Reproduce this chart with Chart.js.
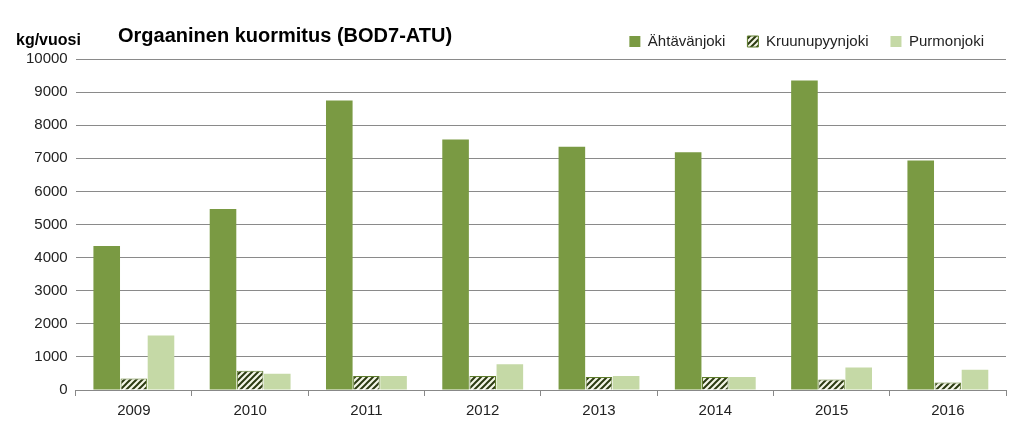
<!DOCTYPE html>
<html><head><meta charset="utf-8">
<script src="https://cdn.jsdelivr.net/npm/chart.js@4"></script>
<style>html,body{margin:0;padding:0;background:#fff}#w{position:relative;width:1024px;height:434px}</style>
</head><body><div id="w"><canvas id="c" width="1024" height="434"></canvas></div>
<script>
const categories = ["2009","2010","2011","2012","2013","2014","2015","2016"];
const ahtavanjoki = [4350,5470,8750,7570,7350,7180,9350,6930];
const kruunupyynjoki = [350,580,420,420,390,390,320,230];
const purmonjoki = [1650,490,420,780,420,390,680,610];
const seriesNames = ["Ähtävänjoki","Kruunupyynjoki","Purmonjoki"];

function hatch(){
  const p=document.createElement('canvas');p.width=6;p.height=6;
  const g=p.getContext('2d');g.fillStyle='#f4f6e8';g.fillRect(0,0,6,6);
  g.strokeStyle='#2b3a12';g.lineWidth=2;
  g.beginPath();g.moveTo(0,6);g.lineTo(6,0);g.moveTo(-3,3);g.lineTo(3,-3);g.moveTo(3,9);g.lineTo(9,3);g.stroke();
  return g.createPattern(p,'repeat');
}
const titlePlugin={id:'t',afterDraw(c){const x=c.ctx;x.save();x.fillStyle='#000';
 x.font='bold 16px "Liberation Sans", Arial';x.textBaseline='middle';x.fillText('kg/vuosi',16,41);
 x.font='bold 20px "Liberation Sans", Arial';x.fillText('Orgaaninen kuormitus (BOD7-ATU)',118,36);x.restore();}};
new Chart(document.getElementById('c'),{
 type:'bar',
 data:{labels:categories,datasets:[
  {label:seriesNames[0],data:ahtavanjoki,backgroundColor:'#7a9a43',borderWidth:0},
  {label:seriesNames[1],data:kruunupyynjoki,backgroundColor:hatch(),borderColor:'#5f7d2c',borderWidth:1},
  {label:seriesNames[2],data:purmonjoki,backgroundColor:'#c5d9a6',borderWidth:0}]},
 options:{responsive:false,animation:false,
  layout:{padding:{left:18,right:18,top:12,bottom:8}},
  datasets:{bar:{categoryPercentage:0.7,barPercentage:0.98}},
  plugins:{legend:{position:'top',align:'end',labels:{boxWidth:11,boxHeight:11,font:{size:15,family:'"Liberation Sans", Arial'},color:'#222',padding:22}},tooltip:{enabled:false}},
  scales:{
   x:{grid:{display:true,drawOnChartArea:false,offset:true,tickLength:6,color:'#888'},border:{color:'#888'},ticks:{font:{size:15,family:'"Liberation Sans", Arial'},color:'#222',padding:6}},
   y:{min:0,max:10000,ticks:{stepSize:1000,callback:v=>String(v),font:{size:15,family:'"Liberation Sans", Arial'},color:'#222',padding:8},grid:{color:'#8a8a8a',drawTicks:false},border:{display:false}}
  }},
 plugins:[titlePlugin]
});
</script></body></html>
